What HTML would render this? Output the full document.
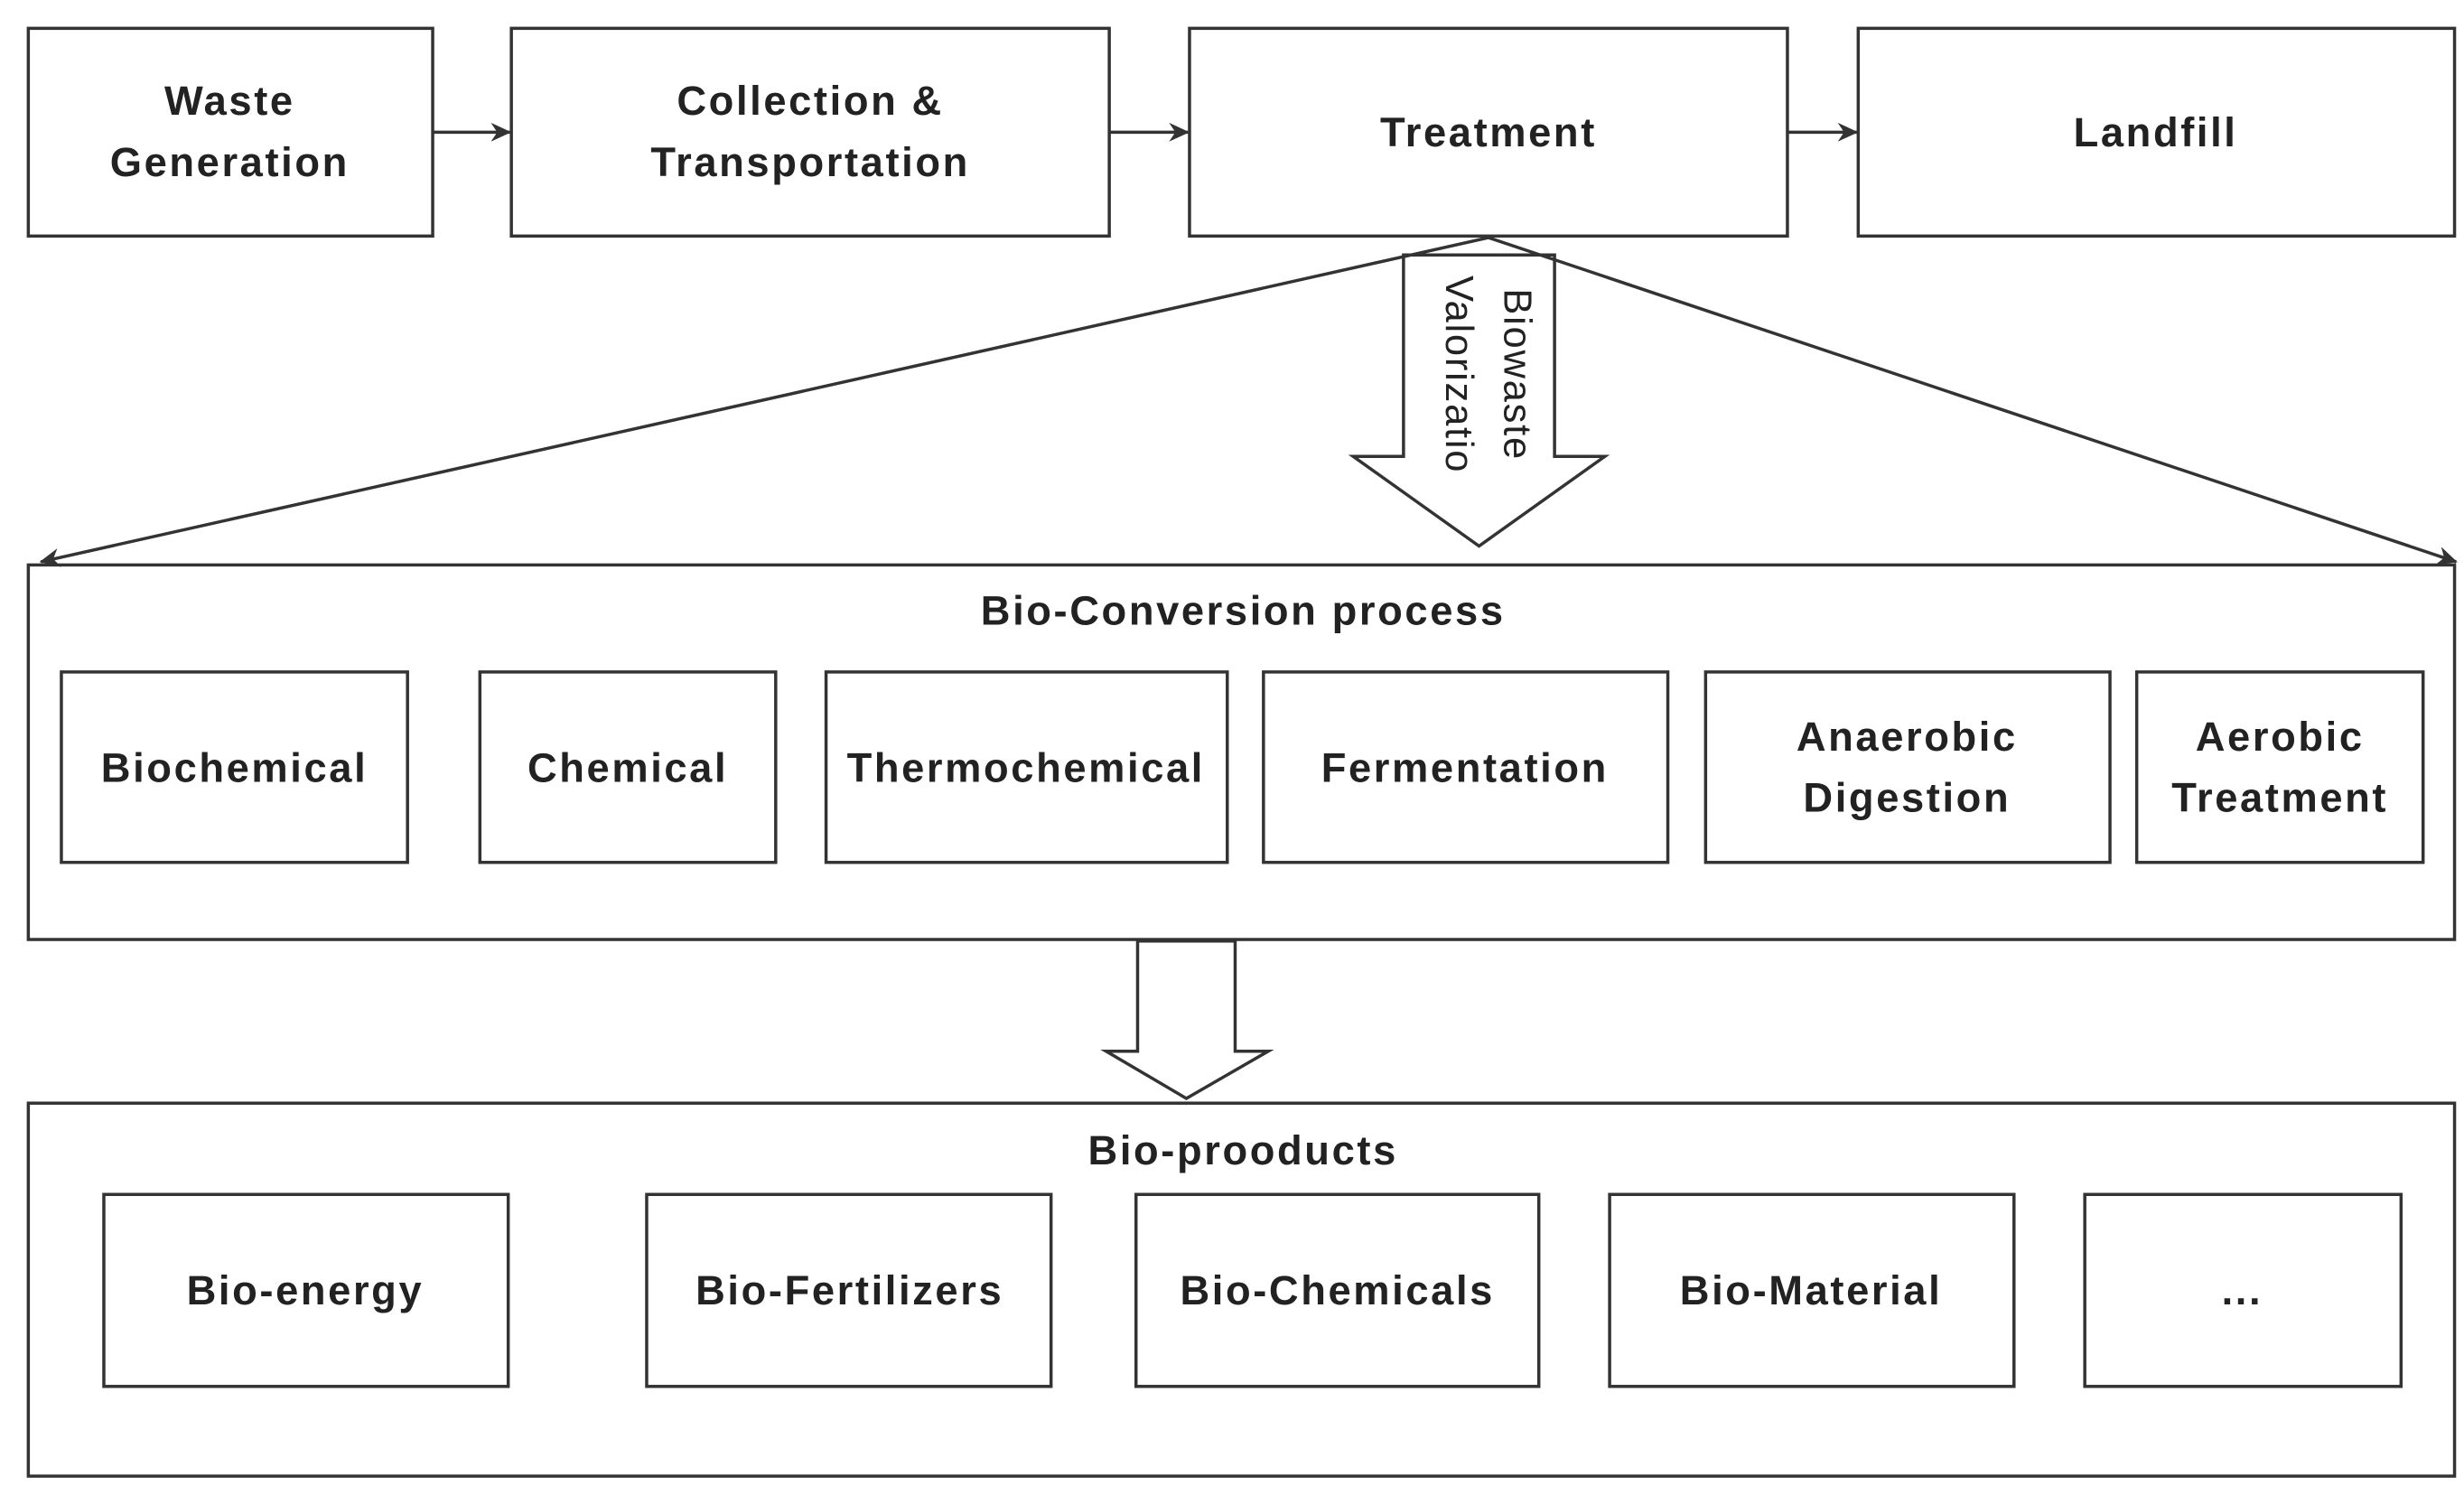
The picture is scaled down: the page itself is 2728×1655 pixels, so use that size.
<!DOCTYPE html>
<html><head><meta charset="utf-8"><style>
html,body{margin:0;padding:0;background:#fff;}
svg{display:block;}
text{font-family:"Liberation Sans",sans-serif;font-weight:bold;font-size:26px;letter-spacing:1.5px;fill:#222;text-anchor:middle;dominant-baseline:central;}
</style></head><body>
<svg width="2728" height="1655" viewBox="0 0 1566 950" preserveAspectRatio="none" xmlns="http://www.w3.org/2000/svg">
<defs><marker id="a" markerWidth="14" markerHeight="14" refX="13" refY="7" orient="auto" markerUnits="userSpaceOnUse"><path d="M1,1 L14,7 L1,13 L5,7 Z" fill="#333"/></marker></defs>
<g fill="#fff" stroke="#333" stroke-width="2">
<rect x="18" y="18" width="257" height="132"/>
<rect x="325" y="18" width="380" height="132"/>
<rect x="756" y="18" width="380" height="132"/>
<rect x="1181" y="18" width="379" height="132"/>
<rect x="18" y="359" width="1542" height="238"/>
<rect x="18" y="701" width="1542" height="237"/>
<rect x="39" y="427" width="220" height="121"/>
<rect x="305" y="427" width="188" height="121"/>
<rect x="525" y="427" width="255" height="121"/>
<rect x="803" y="427" width="257" height="121"/>
<rect x="1084" y="427" width="257" height="121"/>
<rect x="1358" y="427" width="182" height="121"/>
<rect x="66" y="759" width="257" height="122"/>
<rect x="411" y="759" width="257" height="122"/>
<rect x="722" y="759" width="256" height="122"/>
<rect x="1023" y="759" width="257" height="122"/>
<rect x="1325" y="759" width="201" height="122"/>
<path d="M892,162 L988,162 L988,290 L1020,290 L940,347 L860,290 L892,290 Z"/>
<path d="M723,598 L785,598 L785,668 L806,668 L754,698 L703,668 L723,668 Z"/>
</g>
<g stroke="#333" stroke-width="2" fill="none">
<line x1="275" y1="84" x2="324" y2="84" marker-end="url(#a)"/>
<line x1="705" y1="84" x2="755" y2="84" marker-end="url(#a)"/>
<line x1="1136" y1="84" x2="1180" y2="84" marker-end="url(#a)"/>
<line x1="946" y1="151" x2="26" y2="357" marker-end="url(#a)"/>
<line x1="946" y1="151" x2="1561" y2="357" marker-end="url(#a)"/>
</g>
<text x="146" y="64">Waste</text><text x="146" y="103">Generation</text>
<text x="515" y="64">Collection &amp;</text><text x="515" y="103">Transportation</text>
<text x="946" y="84">Treatment</text>
<text x="1370" y="84">Landfill</text>
<text x="790" y="388">Bio-Conversion process</text>
<text x="149" y="488">Biochemical</text>
<text x="399" y="488">Chemical</text>
<text x="652" y="488">Thermochemical</text>
<text x="931" y="488">Fermentation</text>
<text x="1212" y="468">Anaerobic</text><text x="1212" y="507">Digestion</text>
<text x="1449" y="468">Aerobic</text><text x="1449" y="507">Treatment</text>
<text x="790" y="731">Bio-prooducts</text>
<text x="194" y="820">Bio-energy</text>
<text x="540" y="820">Bio-Fertilizers</text>
<text x="850" y="820">Bio-Chemicals</text>
<text x="1151" y="820">Bio-Material</text>
<text x="1425" y="820">...</text>
<g transform="translate(944,238) rotate(90)">
<text x="0" y="-20" style="font-weight:normal;font-size:25px;letter-spacing:1px">Biowaste</text>
<text x="0" y="17" style="font-weight:normal;font-size:25px;letter-spacing:1px">Valorizatio</text>
</g>
</svg>
</body></html>
